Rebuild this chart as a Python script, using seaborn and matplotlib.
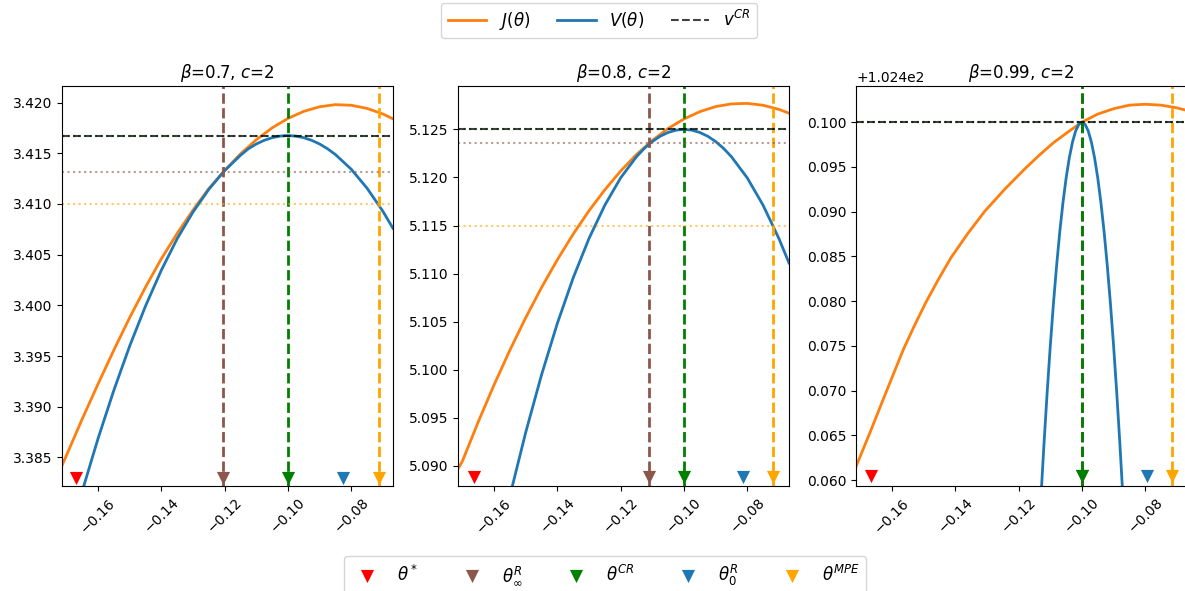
import matplotlib
matplotlib.use("Agg")
import matplotlib.pyplot as plt
import seaborn as sns

# ---- panel titles ----
titles = [r"$\beta$=0.7, $c$=2", r"$\beta$=0.8, $c$=2", r"$\beta$=0.99, $c$=2"]

# ---- beta = 0.7 ----
theta_j_07 = [-0.1714, -0.1700, -0.1650, -0.1600, -0.1550, -0.1500, -0.1450, -0.1400,
              -0.1350, -0.1300, -0.1250, -0.1200, -0.1150, -0.1100, -0.1050, -0.1000,
              -0.0950, -0.0900, -0.0850, -0.0800, -0.0750, -0.0700, -0.0668]
j_07 = [3.38420, 3.38520, 3.38880, 3.39225, 3.39560, 3.39880, 3.40180, 3.40460,
        3.40710, 3.40940, 3.41152, 3.41330, 3.41494, 3.41634, 3.41751, 3.41844,
        3.41914, 3.41959, 3.41980, 3.41974, 3.41943, 3.41888, 3.41840]
theta_v_07 = [-0.1660, -0.1650, -0.1600, -0.1550, -0.1500, -0.1450, -0.1400, -0.1350,
              -0.1300, -0.1250, -0.1200, -0.1150, -0.1125, -0.1100, -0.1075, -0.1050,
              -0.1025, -0.1000, -0.0975, -0.0950, -0.0925, -0.0900, -0.0875, -0.0850,
              -0.0800, -0.0750, -0.0700, -0.0668]
v_07 = [3.38060, 3.38168, 3.38687, 3.39164, 3.39600, 3.39994, 3.40347, 3.40658,
        3.40920, 3.41145, 3.41330, 3.41480, 3.41545, 3.41592, 3.41628, 3.41654,
        3.41670, 3.41675, 3.41670, 3.41654, 3.41628, 3.41592, 3.41545, 3.41488,
        3.41343, 3.41156, 3.40928, 3.40760]

# ---- beta = 0.8 ----
theta_j_08 = [-0.1714, -0.1700, -0.1650, -0.1600, -0.1550, -0.1500, -0.1450, -0.1400,
              -0.1350, -0.1300, -0.1250, -0.1200, -0.1150, -0.1100, -0.1050, -0.1000,
              -0.0950, -0.0900, -0.0850, -0.0800, -0.0750, -0.0700, -0.0668]
j_08 = [5.08970, 5.09051, 5.09459, 5.09844, 5.10205, 5.10542, 5.10856, 5.11145,
        5.11411, 5.11654, 5.11872, 5.12067, 5.12238, 5.12385, 5.12509, 5.12608,
        5.12684, 5.12737, 5.12765, 5.12770, 5.12751, 5.12708, 5.12668]
theta_v_08 = [-0.1555, -0.1550, -0.1500, -0.1450, -0.1400, -0.1350, -0.1300, -0.1250,
              -0.1200, -0.1150, -0.1125, -0.1100, -0.1075, -0.1050, -0.1025, -0.1000,
              -0.0975, -0.0950, -0.0925, -0.0900, -0.0875, -0.0850, -0.0800, -0.0750,
              -0.0700, -0.0668]
v_08 = [5.08619, 5.08688, 5.09350, 5.09948, 5.10484, 5.10956, 5.11366, 5.11712,
        5.11996, 5.12216, 5.12303, 5.12374, 5.12429, 5.12468, 5.12492, 5.12500,
        5.12492, 5.12468, 5.12429, 5.12374, 5.12303, 5.12216, 5.11996, 5.11712,
        5.11366, 5.11111]

# ---- beta = 0.99 ----
theta_j_099 = [-0.1714, -0.1671, -0.1618, -0.1563, -0.1529, -0.1494, -0.1454, -0.1413,
               -0.1361, -0.1308, -0.1243, -0.1177, -0.1134, -0.1090, -0.1045, -0.1000,
               -0.0950, -0.0900, -0.0850, -0.0800, -0.0750, -0.0700, -0.0668]
j_099 = [102.46150, 102.46520, 102.46990, 102.47470, 102.47728, 102.47980, 102.48240, 102.48490,
         102.48754, 102.49000, 102.49254, 102.49490, 102.49633, 102.49770, 102.49888, 102.50000,
         102.50090, 102.50150, 102.50190, 102.50200, 102.50190, 102.50160, 102.50130]
theta_v_099 = [-0.1130, -0.1120, -0.1110, -0.1100, -0.1090, -0.1080, -0.1070, -0.1060,
               -0.1050, -0.1040, -0.1030, -0.1020, -0.1010, -0.1000, -0.0990, -0.0980,
               -0.0970, -0.0960, -0.0950, -0.0940, -0.0930, -0.0920, -0.0910, -0.0900,
               -0.0890, -0.0880, -0.0870]
v_099 = [102.45775, 102.46400, 102.46975, 102.47500, 102.47975, 102.48400, 102.48775, 102.49100,
         102.49375, 102.49600, 102.49775, 102.49900, 102.49975, 102.50000, 102.49975, 102.49900,
         102.49775, 102.49600, 102.49375, 102.49100, 102.48775, 102.48400, 102.47975, 102.47500,
         102.46975, 102.46400, 102.45775]

# ---- special thetas: theta*, theta_inf^R, theta^CR, theta_0^R, theta^MPE ----
marker_labels = [r"$\theta^*$", r"$\theta^R_\infty$", r"$\theta^{CR}$", r"$\theta^R_0$", r"$\theta^{MPE}$"]
marker_colors = ["red", "tab:brown", "green", "tab:blue", "orange"]
thetas_07 = [-0.1670, -0.1205, -0.1000, -0.0827, -0.0713]
thetas_08 = [-0.1664, -0.1109, -0.1000, -0.0814, -0.0717]
thetas_099 = [-0.1666, -0.1000, -0.1000, -0.0795, -0.0715]

# horizontal levels: v^CR, V(theta_inf^R), V(theta^MPE)
vcr = [3.41675, 5.1250, 102.5000]
v_inf = [3.4132, 5.12354, 102.5000]
v_mpe = [3.40996, 5.11493, None]

ylims = [(3.38218, 3.42164), (5.08792, 5.12951), (102.45933, 102.50404)]
marker_y = [3.3830, 5.0889, 102.4604]

panels = [
    (theta_j_07, j_07, theta_v_07, v_07, thetas_07),
    (theta_j_08, j_08, theta_v_08, v_08, thetas_08),
    (theta_j_099, j_099, theta_v_099, v_099, thetas_099),
]

W, H = 1185, 591
fig = plt.figure(figsize=(W / 100, H / 100), dpi=100)
lefts = [62, 458, 856]
axes = [fig.add_axes([l / W, (H - 486) / H, 331 / W, 400 / H]) for l in lefts]

for i, ax in enumerate(axes):
    tj, j, tv, v, th = panels[i]
    sns.lineplot(x=tj, y=j, ax=ax, color="tab:orange", lw=2, label=r"$J(\theta)$", legend=False)
    sns.lineplot(x=tv, y=v, ax=ax, color="tab:blue", lw=2, label=r"$V(\theta)$", legend=False)

    # vertical dashed lines for theta_inf^R, theta^CR, theta^MPE
    ax.axvline(th[1], color="tab:brown", ls="--", lw=2)
    ax.axvline(th[2], color="green", ls="--", lw=2)
    ax.axvline(th[4], color="orange", ls="--", lw=2)

    # dotted value levels
    ax.axhline(v_inf[i], color="tab:brown", ls=":", lw=1.5, alpha=0.6)
    if v_mpe[i] is not None:
        ax.axhline(v_mpe[i], color="orange", ls=":", lw=1.5, alpha=0.6)
    ax.axhline(vcr[i], color="green", ls=":", lw=1.5, alpha=0.6)
    ax.axhline(vcr[i], color="k", ls="--", lw=1.5, alpha=0.75, label=r"$v^{CR}$")

    for t, c, lab in zip(th, marker_colors, marker_labels):
        sns.scatterplot(x=[t], y=[marker_y[i]], ax=ax, marker="v", s=90, color=c,
                        linewidth=0, label=lab, legend=False, zorder=5)

    ax.set_xlim(-0.1714, -0.0668)
    ax.set_ylim(*ylims[i])
    ax.set_xticks([-0.16, -0.14, -0.12, -0.10, -0.08])
    ax.tick_params(axis="x", rotation=45)
    ax.set_title(titles[i], fontsize=12)

handles, labels = axes[0].get_legend_handles_labels()
line_l = [r"$J(\theta)$", r"$V(\theta)$", r"$v^{CR}$"]
line_h = [handles[labels.index(l)] for l in line_l]
mark_h = [handles[labels.index(l)] for l in marker_labels]

fig.legend(line_h, line_l, ncol=3, fontsize=12, loc="upper center",
           bbox_to_anchor=(599 / W, 1 - 3 / H), borderaxespad=0,
           handlelength=2.3, columnspacing=1.6)
fig.legend(mark_h, marker_labels, ncol=5, fontsize=12, loc="upper center",
           bbox_to_anchor=(605 / W, 1 - 556 / H), borderaxespad=0, columnspacing=2.2)

fig.savefig("out.png", dpi=100)
